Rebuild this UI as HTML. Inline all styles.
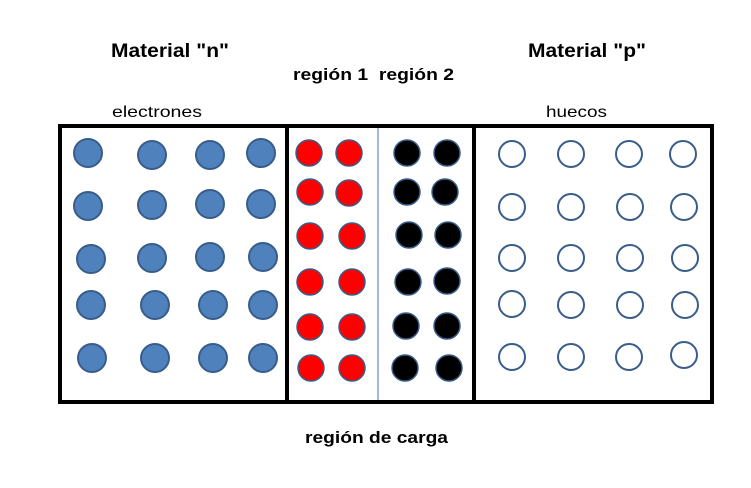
<!DOCTYPE html>
<html><head><meta charset="utf-8"><style>
html,body{margin:0;padding:0;background:#fff;width:751px;height:488px;overflow:hidden}
svg{display:block}
text{font-family:"Liberation Sans",Arial,sans-serif;fill:#000}
</style></head><body>
<svg width="751" height="488" viewBox="0 0 751 488" xmlns="http://www.w3.org/2000/svg">
<text x="111" y="57" font-size="19" font-weight="bold" textLength="118" lengthAdjust="spacingAndGlyphs">Material "n"</text>
<text x="528" y="57" font-size="19" font-weight="bold" textLength="118" lengthAdjust="spacingAndGlyphs">Material "p"</text>
<text x="293" y="80" font-size="17" font-weight="bold" textLength="161" lengthAdjust="spacingAndGlyphs" xml:space="preserve">región 1  región 2</text>
<text x="112" y="117" font-size="16" textLength="90" lengthAdjust="spacingAndGlyphs">electrones</text>
<text x="546" y="117" font-size="16" textLength="61" lengthAdjust="spacingAndGlyphs">huecos</text>
<text x="305" y="443" font-size="17" font-weight="bold" textLength="143" lengthAdjust="spacingAndGlyphs">región de carga</text>
<line x1="378" y1="128" x2="378" y2="400" stroke="#7ea3d4" stroke-width="1.5"/>
<g fill="#4f81bd" stroke="#385d8a" stroke-width="2">
<circle cx="88" cy="153" r="14"/><circle cx="152" cy="155" r="14"/><circle cx="210" cy="155" r="14"/><circle cx="261" cy="153" r="14"/>
<circle cx="88" cy="206" r="14"/><circle cx="152" cy="205" r="14"/><circle cx="210" cy="204" r="14"/><circle cx="261" cy="204" r="14"/>
<circle cx="91" cy="259" r="14"/><circle cx="152" cy="258" r="14"/><circle cx="210" cy="257" r="14"/><circle cx="263" cy="257" r="14"/>
<circle cx="91" cy="305" r="14"/><circle cx="155" cy="305" r="14"/><circle cx="213" cy="305" r="14"/><circle cx="263" cy="305" r="14"/>
<circle cx="92" cy="358" r="14"/><circle cx="155" cy="358" r="14"/><circle cx="213" cy="358" r="14"/><circle cx="263" cy="358" r="14"/>
</g>
<g fill="#ff0000" stroke="#385d8a" stroke-width="1.5">
<circle cx="309" cy="153" r="13"/><circle cx="349" cy="153" r="13"/>
<circle cx="310" cy="192" r="13"/><circle cx="349" cy="193" r="13"/>
<circle cx="310" cy="236" r="13"/><circle cx="352" cy="236" r="13"/>
<circle cx="310" cy="282" r="13"/><circle cx="352" cy="282" r="13"/>
<circle cx="310" cy="327" r="13"/><circle cx="352" cy="327" r="13"/>
<circle cx="311" cy="368" r="13"/><circle cx="352" cy="368" r="13"/>
</g>
<g fill="#000" stroke="#385d8a" stroke-width="1.5">
<circle cx="407" cy="153" r="13"/><circle cx="447" cy="153" r="13"/>
<circle cx="407" cy="192" r="13"/><circle cx="445" cy="192" r="13"/>
<circle cx="409" cy="235" r="13"/><circle cx="448" cy="235" r="13"/>
<circle cx="408" cy="282" r="13"/><circle cx="447" cy="281" r="13"/>
<circle cx="406" cy="326" r="13"/><circle cx="447" cy="326" r="13"/>
<circle cx="405" cy="368" r="13"/><circle cx="449" cy="368" r="13"/>
</g>
<g fill="#fff" stroke="#385d8a" stroke-width="2">
<circle cx="512" cy="154" r="13"/><circle cx="571" cy="154" r="13"/><circle cx="629" cy="154" r="13"/><circle cx="683" cy="154" r="13"/>
<circle cx="512" cy="207" r="13"/><circle cx="571" cy="207" r="13"/><circle cx="630" cy="207" r="13"/><circle cx="684" cy="207" r="13"/>
<circle cx="512" cy="258" r="13"/><circle cx="571" cy="258" r="13"/><circle cx="630" cy="258" r="13"/><circle cx="685" cy="258" r="13"/>
<circle cx="512" cy="304" r="13"/><circle cx="571" cy="305" r="13"/><circle cx="630" cy="305" r="13"/><circle cx="685" cy="305" r="13"/>
<circle cx="512" cy="357" r="13"/><circle cx="571" cy="357" r="13"/><circle cx="629" cy="357" r="13"/><circle cx="684" cy="355" r="13"/>
</g>
<g stroke="#000" stroke-width="4" fill="none">
<rect x="60" y="126" width="652" height="276"/>
<line x1="287" y1="126" x2="287" y2="402"/>
<line x1="474" y1="126" x2="474" y2="402"/>
</g>
</svg>
</body></html>
